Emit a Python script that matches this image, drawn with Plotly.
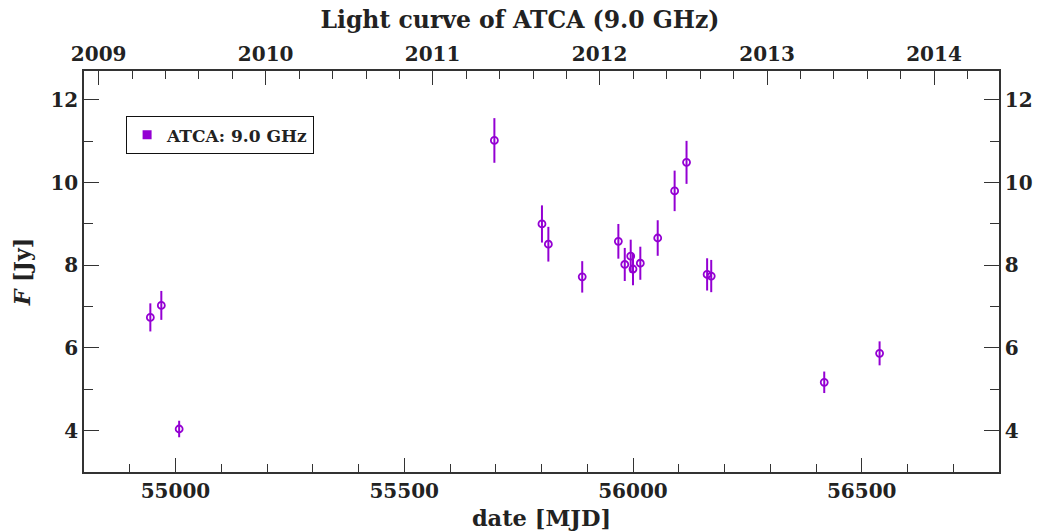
import plotly.graph_objects as go

# ---- data ----
mjd = [54945, 54969, 55008, 55697, 55801, 55815, 55889, 55968, 55982, 55995,
       56000, 56016, 56054, 56091, 56117, 56162, 56171, 56418, 56539]
flux = [6.74, 7.03, 4.04, 11.02, 9.00, 8.51, 7.72, 8.58, 8.02, 8.22,
        7.91, 8.05, 8.66, 9.80, 10.49, 7.78, 7.74, 5.17, 5.87]
flux_err = [0.34, 0.35, 0.20, 0.54, 0.45, 0.42, 0.38, 0.42, 0.40, 0.40,
            0.39, 0.40, 0.43, 0.49, 0.52, 0.39, 0.39, 0.26, 0.29]

years = [2009, 2010, 2011, 2012, 2013, 2014]
year_mjd = [54832, 55197, 55562, 55927, 56293, 56658]
mjd_ticks = [55000, 55500, 56000, 56500]
flux_ticks = [4, 6, 8, 10, 12]

series_name = "ATCA: 9.0 GHz"
title_text = "Light curve of ATCA (9.0 GHz)"

COLOR = "#9400D3"
AX = "#333333"
TXT = "#222222"
FONT = "DejaVu Serif"

fig = go.Figure()

fig.add_trace(go.Scatter(
    x=mjd, y=flux, mode="markers", name=series_name, showlegend=False,
    marker=dict(symbol="circle-open", size=7, color=COLOR, line=dict(width=1.8, color=COLOR)),
    error_y=dict(type="data", array=flux_err, visible=True, width=0, thickness=2, color=COLOR),
))
# legend entry (filled square as in reference)
fig.add_trace(go.Scatter(
    x=[None], y=[None], mode="markers", name="<b>" + series_name + "</b>",
    marker=dict(symbol="square", size=9, color=COLOR),
))
# carriers for the secondary axes
fig.add_trace(go.Scatter(x=[None], y=[None], xaxis="x2", yaxis="y", showlegend=False, hoverinfo="skip"))
fig.add_trace(go.Scatter(x=[None], y=[None], xaxis="x", yaxis="y2", showlegend=False, hoverinfo="skip"))

xr = [54800, 56800]
yr = [3.0, 12.7]
tickfont = dict(family=FONT, size=20, color=TXT, weight="bold")

common = dict(showline=True, linecolor=AX, linewidth=1.5, ticks="inside",
              tickcolor=AX, tickwidth=1.3, showgrid=False, zeroline=False,
              tickfont=tickfont, automargin=False)

fig.update_layout(
    template="none",
    width=1040, height=532,
    margin=dict(l=84, r=41, t=71, b=60, autoexpand=False),
    paper_bgcolor="white", plot_bgcolor="white",
    title=dict(text="<b>" + title_text + "</b>", x=0.5, xanchor="center",
               y=0.962, yanchor="middle", font=dict(family=FONT, size=23.5, color=TXT)),
    xaxis=dict(range=xr, tickmode="array", tickvals=mjd_ticks,
               ticktext=[str(v) for v in mjd_ticks], ticklen=14,
               minor=dict(tick0=54800, dtick=100, ticklen=8, ticks="inside",
                          tickcolor=AX, tickwidth=1.3, showgrid=False),
               title=dict(text="<b>date [MJD]</b>", font=dict(family=FONT, size=22.5, color=TXT), standoff=8),
               **common),
    xaxis2=dict(range=xr, overlaying="x", side="top", anchor="y", tickmode="array",
                tickvals=year_mjd, ticktext=[str(y) for y in years], ticklen=14,
                minor=dict(tick0=54832, dtick=73.05, ticklen=8, ticks="inside",
                           tickcolor=AX, tickwidth=1.3, showgrid=False),
                **common),
    yaxis=dict(range=yr, tickmode="array", tickvals=flux_ticks,
               ticktext=[str(v) for v in flux_ticks], ticklen=15,
               minor=dict(tick0=3, dtick=1, ticklen=9, ticks="inside", tickcolor=AX,
                          tickwidth=1.3, showgrid=False),
               title=dict(text="<b><i>F</i> [Jy]</b>", font=dict(family=FONT, size=22, color=TXT), standoff=14),
               **common),
    yaxis2=dict(range=yr, overlaying="y", side="right", anchor="x", tickmode="array",
                tickvals=flux_ticks, ticktext=[str(v) for v in flux_ticks], ticklen=15,
                minor=dict(tick0=3, dtick=1, ticklen=9, ticks="inside", tickcolor=AX,
                           tickwidth=1.3, showgrid=False),
                **common),
    legend=dict(x=0.046, y=0.887, xanchor="left", yanchor="top",
                bordercolor="#111111", borderwidth=1, bgcolor="white",
                font=dict(family=FONT, size=17, color=TXT), itemwidth=30),
    showlegend=True,
)

fig.write_html("out.html", config={"displayModeBar": False},
               post_script="document.body.style.margin='0';document.body.style.padding='0';")
